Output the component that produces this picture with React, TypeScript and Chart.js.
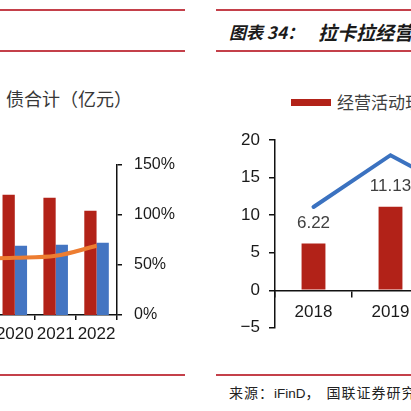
import React, { useEffect, useRef } from "react";
import { Chart, registerables } from "chart.js";

Chart.register(...registerables);

// ---- Left panel data (partially visible chart) ----
const leftYears = ["2019", "2020", "2021", "2022"];
const leftRedBars: (number | null)[] = [null, 120, 117, 104];
const leftBlueBars: (number | null)[] = [null, 69, 70, 72];
const leftRatioLine = [56, 57, 59, 69];
const leftPctMin = 0;
const leftPctMax = 150;
const leftPctStep = 50;

// ---- Right panel data ----
const rightYears = ["2018", "2019", "2020"];
const rightCashBars: (number | null)[] = [6.22, 11.13, null];
const rightLineValues = [11.1, 18.0, 12.5];
const rightMin = -5;
const rightMax = 20;
const rightStep = 5;

const leftLegendText = "债合计（亿元）";
const rightLegendText = "经营活动现金流净额（亿元）";
const titleHead = "图表 34：";
const titleTail = "拉卡拉经营活动现金流净额（亿元）";
const sourceLead = "来源：";
const sourceData = "iFinD";
const sourceComma = "，";
const sourceOrg = "国联证券研究所";

const RED = "#B22218";
const BLUE = "#4475C2";
const ORANGE = "#ED7D31";
const LINE_BLUE = "#3B72C0";
const RULE = "#C4404A";
const AXIS = "#111111";
const LATIN = "'Liberation Sans', Arial, sans-serif";

const barValueLabels = {
  id: "barValueLabels",
  afterDatasetsDraw(chart: any) {
    const meta = chart.getDatasetMeta(0);
    const ds = chart.data.datasets[0];
    const ctx = chart.ctx;
    ctx.save();
    ctx.font = `17px ${LATIN}`;
    ctx.fillStyle = "#404040";
    ctx.textAlign = "center";
    ctx.textBaseline = "middle";
    meta.data.forEach((el: any, i: number) => {
      const v = ds.data[i];
      if (v == null) return;
      ctx.fillText(Number(v).toFixed(2), el.x, el.y - 20);
    });
    ctx.restore();
  },
};

function LeftChart() {
  const ref = useRef<HTMLCanvasElement | null>(null);
  useEffect(() => {
    if (!ref.current) return;
    const chart = new Chart(ref.current, {
      type: "bar",
      data: {
        labels: leftYears,
        datasets: [
          {
            type: "line",
            label: "资产负债率",
            data: leftRatioLine,
            borderColor: ORANGE,
            borderWidth: 4,
            pointRadius: 0,
            tension: 0.4,
            cubicInterpolationMode: "monotone",
            yAxisID: "yR",
            order: 0,
          } as any,
          {
            label: "资产合计（亿元）",
            data: leftRedBars,
            backgroundColor: RED,
            yAxisID: "yL",
            barPercentage: 1,
            categoryPercentage: 0.6,
            order: 1,
          },
          {
            label: "负债合计（亿元）",
            data: leftBlueBars,
            backgroundColor: BLUE,
            yAxisID: "yL",
            barPercentage: 1,
            categoryPercentage: 0.6,
            order: 1,
          },
        ],
      },
      options: {
        animation: false,
        responsive: false,
        devicePixelRatio: 1,
        layout: { padding: { top: 12, left: 0, right: 0, bottom: 0 } },
        plugins: { legend: { display: false }, tooltip: { enabled: false } },
        scales: {
          x: {
            afterFit: (s: any) => {
              s.height = 35;
            },
            grid: {
              offset: true,
              drawOnChartArea: false,
              drawTicks: true,
              tickLength: 5,
              color: AXIS,
              lineWidth: 1.5,
            },
            border: { color: AXIS, width: 1.5 },
            ticks: {
              color: "#1a1a1a",
              font: { size: 17, family: LATIN },
              padding: 4,
              maxRotation: 0,
              autoSkip: false,
            },
          },
          yL: {
            display: false,
            position: "left",
            min: 0,
            max: 150,
          },
          yR: {
            position: "right",
            min: leftPctMin,
            max: leftPctMax,
            afterFit: (s: any) => {
              s.width = 60;
            },
            grid: {
              drawOnChartArea: false,
              drawTicks: true,
              tickLength: 5,
              color: AXIS,
              lineWidth: 1.5,
            },
            border: { color: AXIS, width: 1.5 },
            ticks: {
              stepSize: leftPctStep,
              color: "#1a1a1a",
              font: { size: 16, family: LATIN },
              padding: 12,
              callback: (v: any) => `${v}%`,
            },
          },
        },
      } as any,
    });
    return () => chart.destroy();
  }, []);
  return (
    <canvas
      ref={ref}
      width={226}
      height={207}
      style={{ position: "absolute", left: -49, top: 143, width: 226, height: 207, display: "block" }}
    />
  );
}

function RightChart() {
  const ref = useRef<HTMLCanvasElement | null>(null);
  useEffect(() => {
    if (!ref.current) return;
    const chart = new Chart(ref.current, {
      type: "bar",
      data: {
        labels: rightYears,
        datasets: [
          {
            label: rightLegendText,
            data: rightCashBars,
            backgroundColor: RED,
            barPercentage: 0.31,
            categoryPercentage: 1,
            order: 1,
          },
          {
            type: "line",
            label: "净利润",
            data: rightLineValues,
            borderColor: LINE_BLUE,
            borderWidth: 4,
            pointRadius: 0,
            tension: 0,
            borderCapStyle: "round",
            order: 0,
          } as any,
        ],
      },
      options: {
        animation: false,
        responsive: false,
        devicePixelRatio: 1,
        layout: { padding: { top: 12, left: 0, right: 0, bottom: 12 } },
        plugins: { legend: { display: false }, tooltip: { enabled: false } },
        scales: {
          x: {
            position: { y: 0 },
            grid: {
              offset: true,
              drawOnChartArea: false,
              drawTicks: true,
              tickLength: 6,
              color: AXIS,
              lineWidth: 1.5,
            },
            border: { color: AXIS, width: 1.5 },
            ticks: {
              color: "#1a1a1a",
              font: { size: 17, family: LATIN },
              padding: 6,
              maxRotation: 0,
              autoSkip: false,
            },
          },
          y: {
            position: "left",
            min: rightMin,
            max: rightMax,
            afterFit: (s: any) => {
              s.width = 60;
            },
            grid: {
              drawOnChartArea: false,
              drawTicks: true,
              tickLength: 6,
              color: AXIS,
              lineWidth: 1.5,
            },
            border: { color: AXIS, width: 1.5 },
            ticks: {
              stepSize: rightStep,
              color: "#1a1a1a",
              font: { size: 17, family: LATIN },
              padding: 9,
              callback: (v: any) => (Number(v) < 0 ? `\u2212${Math.abs(Number(v))}` : `${v}`),
            },
          },
        },
      } as any,
      plugins: [barValueLabels],
    });
    return () => chart.destroy();
  }, []);
  return (
    <canvas
      ref={ref}
      width={291}
      height={226}
      style={{ position: "absolute", left: 215, top: 121, width: 291, height: 226, display: "block" }}
    />
  );
}

const rule = (left: number, width: number, top: number): React.CSSProperties => ({
  position: "absolute",
  left,
  width,
  top,
  height: 2,
  background: RULE,
});

export default function App() {
  useEffect(() => {
    document.body.style.margin = "0";
  }, []);
  const cjk = "'Noto Sans CJK SC', 'Liberation Sans', sans-serif";
  return (
    <div
      style={{
        position: "fixed",
        left: 0,
        top: 0,
        width: 411,
        height: 411,
        overflow: "hidden",
        background: "#ffffff",
      }}
    >
      {/* left panel rules */}
      <div style={rule(0, 185, 9)} />
      <div style={rule(0, 185, 50)} />
      <div style={rule(0, 185, 374)} />
      {/* right panel rules */}
      <div style={rule(216, 195, 9)} />
      <div style={rule(216, 195, 50)} />
      <div style={rule(216, 195, 374)} />

      {/* right title */}
      <div
        style={{
          position: "absolute",
          left: 229,
          top: 19,
          fontFamily: cjk,
          fontSize: 17,
          fontWeight: 700,
          fontStyle: "italic",
          color: "#1a1a1a",
          whiteSpace: "nowrap",
          lineHeight: "26px",
        }}
      >
        {titleHead}
      </div>
      <div
        style={{
          position: "absolute",
          left: 318,
          top: 19,
          fontFamily: cjk,
          fontSize: 19,
          fontWeight: 700,
          fontStyle: "italic",
          color: "#1a1a1a",
          whiteSpace: "nowrap",
          lineHeight: "26px",
        }}
      >
        {titleTail}
      </div>

      {/* left legend tail */}
      <div
        style={{
          position: "absolute",
          left: 6,
          top: 86,
          fontFamily: cjk,
          fontSize: 18,
          color: "#383838",
          whiteSpace: "nowrap",
          lineHeight: "24px",
        }}
      >
        {leftLegendText}
      </div>

      {/* right legend */}
      <div
        style={{ position: "absolute", left: 291, top: 99, width: 40, height: 7, background: RED }}
      />
      <div
        style={{
          position: "absolute",
          left: 337,
          top: 90,
          fontFamily: cjk,
          fontSize: 17,
          color: "#404040",
          whiteSpace: "nowrap",
          lineHeight: "24px",
        }}
      >
        {rightLegendText}
      </div>

      <LeftChart />
      <RightChart />

      {/* source */}
      <div
        style={{
          position: "absolute",
          left: 229,
          top: 384,
          fontFamily: "'Liberation Sans', 'Noto Sans CJK SC', sans-serif",
          fontSize: 14,
          color: "#222222",
          whiteSpace: "nowrap",
          lineHeight: "18px",
        }}
      >
        <span style={{ letterSpacing: 1 }}>{sourceLead}</span>
        <span style={{ fontSize: 13.5 }}>{sourceData}</span>
        <span style={{ marginRight: 7 }}>{sourceComma}</span>
        <span style={{ letterSpacing: 1 }}>{sourceOrg}</span>
      </div>
    </div>
  );
}
